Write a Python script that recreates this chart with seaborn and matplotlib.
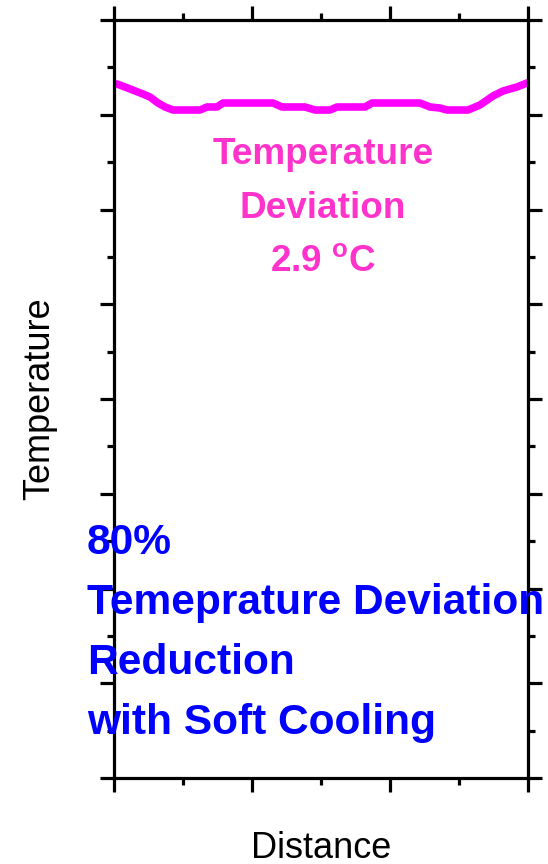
import matplotlib
matplotlib.use("Agg")
import matplotlib.pyplot as plt
from matplotlib.ticker import MultipleLocator, NullFormatter
import seaborn as sns
import pandas as pd

# Temperature profile along the part with soft cooling
distance = [0.22, 1.16, 2.10, 2.61, 3.19, 3.70, 4.28, 6.23, 6.74, 7.46, 7.90,
            11.52, 12.17, 13.84, 14.57, 15.65, 16.16, 18.19, 18.70, 22.17,
            22.90, 23.62, 24.13, 25.65, 26.52, 27.46, 28.19, 29.20, 29.93]
temperature = [73.25, 72.72, 72.19, 71.87, 71.24, 70.82, 70.50, 70.50, 70.82,
               70.82, 71.24, 71.24, 70.82, 70.82, 70.50, 70.50, 70.82, 70.82,
               71.24, 71.24, 70.82, 70.71, 70.50, 70.50, 71.03, 71.98, 72.51,
               72.93, 73.35]

deviation_lines = ["Temperature", "Deviation", r"2.9 $^{\mathbf{o}}$C"]
reduction_lines = ["80%", "Temeprature Deviation", "Reduction", "with Soft Cooling"]

x_limits = (0, 30)
y_limits = (0, 80)

sns.set_theme(style="ticks")
plt.rcParams["font.family"] = ["Liberation Sans", "DejaVu Sans"]
plt.rcParams["mathtext.fontset"] = "custom"
plt.rcParams["mathtext.rm"] = "Liberation Sans"
plt.rcParams["mathtext.bf"] = "Liberation Sans:bold"

fig = plt.figure(figsize=(5.48, 8.64), dpi=100)
ax = fig.add_axes([114 / 548, 1 - 778 / 864, 414 / 548, 758 / 864])

df = pd.DataFrame({"Distance": distance, "Temperature": temperature})
sns.lineplot(data=df, x="Distance", y="Temperature", ax=ax, color="#ff00ff",
             linewidth=5.5, solid_joinstyle="round", solid_capstyle="round")

ax.set_xlim(*x_limits)
ax.set_ylim(*y_limits)

for side in ["left", "right", "top", "bottom"]:
    ax.spines[side].set_visible(True)
    ax.spines[side].set_linewidth(2.3)
    ax.spines[side].set_color("black")

ax.xaxis.set_major_locator(MultipleLocator(10))
ax.xaxis.set_minor_locator(MultipleLocator(5))
ax.yaxis.set_major_locator(MultipleLocator(10))
ax.yaxis.set_minor_locator(MultipleLocator(5))
ax.xaxis.set_major_formatter(NullFormatter())
ax.yaxis.set_major_formatter(NullFormatter())
ax.tick_params(which="both", direction="out", top=True, right=True,
               bottom=True, left=True, color="black", width=2.3)
ax.tick_params(which="major", length=10)
ax.tick_params(which="minor", length=5)

ax.set_xlabel("Distance", fontsize=26, color="black")
ax.set_ylabel("Temperature", fontsize=26, color="black")
ax.xaxis.set_label_coords(0.5, (778 - 848) / 758)
ax.xaxis.label.set_va("center")
ax.yaxis.set_label_coords((40 - 114) / 414, 0.5)
ax.yaxis.label.set_va("center")

deviation_y = [155, 208, 263]
for text, py in zip(deviation_lines, deviation_y):
    ax.text((323 - 114) / 414, (778 - py) / 758, text, transform=ax.transAxes,
            ha="center", va="center", fontsize=26.6, fontweight="bold",
            color="#ff33cc")

reduction_y = [543, 603, 663, 723]
for text, py in zip(reduction_lines, reduction_y):
    ax.text((87 - 114) / 414, (778 - py) / 758, text, transform=ax.transAxes,
            ha="left", va="center", fontsize=30.6, fontweight="bold",
            color="#0000ff", clip_on=False, zorder=10)

fig.savefig("out.png", dpi=100)
